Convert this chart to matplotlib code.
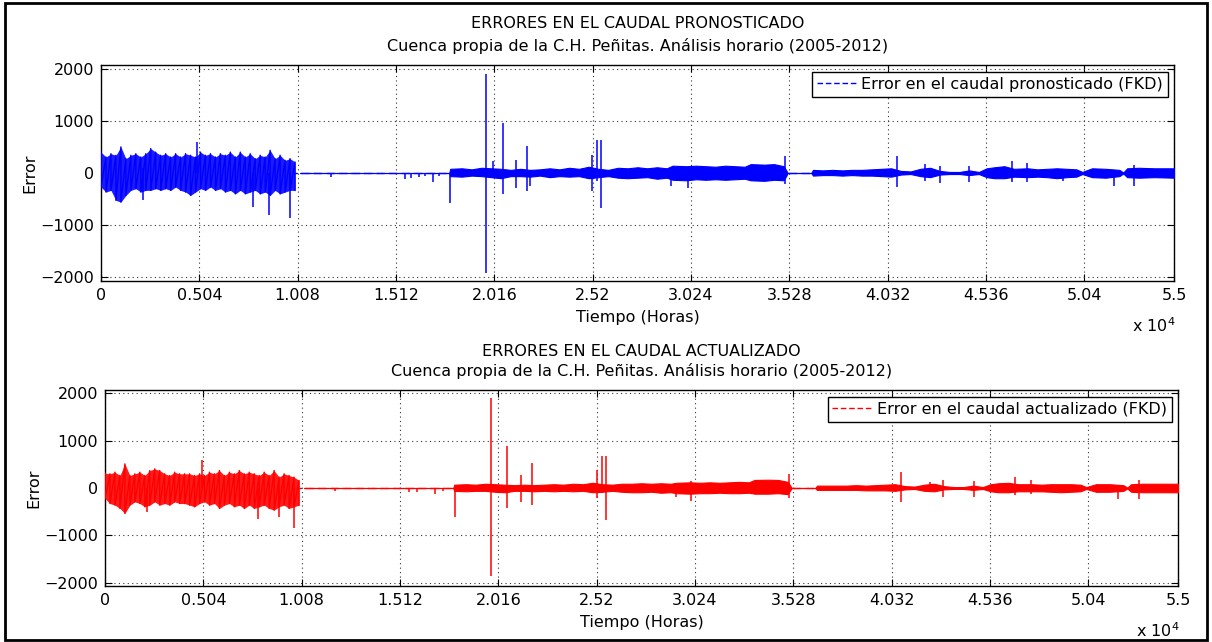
import numpy as np
import matplotlib.pyplot as plt
from matplotlib.lines import Line2D
from matplotlib.patches import Rectangle

# ejes
x_ticks = [0, 5040, 10080, 15120, 20160, 25200, 30240, 35280, 40320, 45360, 50400, 55000]
x_tick_labels = ['0', '0.504', '1.008', '1.512', '2.016', '2.52', '3.024', '3.528',
                 '4.032', '4.536', '5.04', '5.5']
y_ticks = [-2000, -1000, 0, 1000, 2000]

# zona densa (0 - 10200 h), envolvente leida cada 255 h
t_densa = np.arange(0, 10200, 255)

pron_densa_sup = [400, 307, 370, 340, 500, 275, 340, 370, 307, 370,
                  467, 400, 340, 370, 307, 370, 307, 370, 340, 307,
                  400, 340, 370, 307, 370, 340, 400, 307, 400, 307,
                  370, 275, 340, 307, 435, 275, 340, 243, 275, 211]
pron_densa_inf = [-270, -365, -333, -525, -557, -430, -333, -300, -365, -333,
                  -333, -300, -333, -300, -333, -270, -333, -365, -430, -365,
                  -300, -333, -270, -333, -300, -365, -333, -400, -333, -400,
                  -365, -333, -400, -365, -430, -333, -400, -365, -333, -333]

act_densa_sup = [313, 300, 334, 265, 509, 265, 300, 334, 265, 369,
                 404, 369, 300, 265, 334, 300, 300, 300, 265, 300,
                 265, 334, 300, 369, 265, 334, 300, 369, 300, 334,
                 300, 265, 334, 265, 369, 230, 300, 265, 230, 160]
act_densa_inf = [-223, -328, -362, -432, -537, -362, -293, -328, -397, -362,
                 -293, -362, -328, -362, -293, -328, -328, -362, -397, -328,
                 -293, -362, -328, -432, -362, -328, -397, -362, -432, -362,
                 -432, -397, -362, -432, -467, -397, -362, -432, -397, -362]

# resto de la serie (10200 - 55000 h)
t_resto = [10200, 17850, 17900, 18500, 19000, 19500, 20000, 20500, 21000, 21500,
           22000, 22500, 23000, 23500, 24000, 24500, 25000, 25500, 26000, 26500,
           27000, 27500, 28000, 28500, 29000, 29300, 30000, 30500, 31000, 31500,
           32000, 32500, 33000, 33300, 34000, 34500, 35000, 35200, 36400, 36500,
           37000, 37500, 38000, 38500, 39000, 39500, 40000, 40500, 41000, 41500,
           42000, 42500, 43000, 43500, 44000, 44500, 45000, 45400, 45800, 46300,
           46800, 47500, 48000, 48500, 49000, 49500, 50000, 50300, 50800, 51500,
           52200, 52400, 52600, 53200, 54000, 55000]

pron_resto_sup = [0, 0, 80, 90, 70, 100, 90, 80, 60, 80,
                  60, 70, 90, 70, 100, 80, 120, 80, 60, 100,
                  90, 110, 90, 110, 90, 140, 130, 140, 130, 120,
                  140, 130, 120, 170, 160, 170, 130, 0, 0, 60,
                  50, 60, 50, 60, 60, 70, 80, 90, 40, 30,
                  80, 100, 40, 20, 20, 50, 20, 90, 110, 130,
                  80, 90, 70, 80, 90, 80, 70, 20, 90, 80,
                  60, 10, 90, 100, 90, 90]
pron_resto_inf = [0, 0, -60, -70, -50, -60, -80, -100, -60, -60,
                  -70, -50, -80, -60, -70, -60, -100, -80, -60, -90,
                  -100, -90, -80, -110, -90, -130, -140, -120, -130, -120,
                  -130, -120, -110, -140, -150, -130, -140, 0, 0, -50,
                  -40, -40, -50, -40, -50, -50, -60, -70, -30, -20,
                  -60, -80, -30, -20, -20, -40, -20, -80, -100, -100,
                  -70, -80, -70, -80, -100, -80, -70, -20, -80, -90,
                  -60, -10, -80, -90, -80, -90]

act_resto_sup = [0, 0, 70, 80, 70, 90, 80, 70, 60, 70,
                 60, 70, 80, 70, 90, 80, 110, 80, 70, 90,
                 90, 100, 90, 100, 90, 110, 120, 110, 120, 110,
                 120, 130, 120, 170, 175, 170, 130, 0, 0, 50,
                 50, 50, 50, 60, 50, 60, 70, 80, 40, 30,
                 70, 90, 40, 20, 20, 50, 20, 80, 100, 110,
                 80, 80, 70, 80, 80, 80, 70, 20, 80, 80,
                 60, 10, 80, 90, 90, 90]
act_resto_inf = [0, 0, -60, -70, -60, -60, -80, -90, -60, -60,
                 -70, -60, -70, -60, -70, -60, -90, -80, -60, -80,
                 -90, -90, -80, -100, -90, -110, -120, -110, -110, -100,
                 -110, -110, -100, -120, -120, -110, -130, 0, 0, -40,
                 -40, -40, -40, -40, -50, -50, -50, -60, -30, -20,
                 -60, -70, -30, -20, -20, -40, -20, -70, -90, -90,
                 -70, -70, -70, -80, -90, -80, -70, -20, -80, -80,
                 -60, -10, -80, -90, -90, -90]

# picos aislados: hora, maximo, minimo
pron_pico_t = [2160, 4900, 7800, 8610, 9690, 11800, 15600, 15900, 16300, 16600,
               17000, 17300, 17900, 19730, 20100, 20620, 21250, 21820, 22000, 25150,
               25440, 25610, 29200, 30070, 35060, 40780, 42240, 43010, 44500, 46680,
               47450, 49300, 51900, 52950]
pron_pico_max = [100, 595, 0, 0, 0, 0, 0, 0, 0, 0,
                 0, 0, 0, 1900, 225, 950, 255, 515, 50, 350,
                 625, 625, 50, 80, 320, 330, 170, 140, 140, 235,
                 185, 60, 60, 160]
pron_pico_min = [-525, 0, -650, -810, -870, -70, -110, -90, -80, -60,
                 -170, -60, -580, -1910, -100, -410, -285, -350, -240, -350,
                 -150, -670, -250, -290, -220, -275, -150, -200, -170, -165,
                 -170, -150, -240, -240]

act_pico_t = [2160, 4970, 7840, 8930, 9670, 11800, 15600, 16000, 16900, 17300,
              17950, 19780, 20630, 21310, 21870, 25230, 25490, 25660, 29270, 30040,
              35060, 40800, 42270, 42970, 44530, 46650, 47460, 51950, 53000]
act_pico_max = [0, 593, 0, 0, 0, 0, 0, 0, 0, 0,
                0, 1900, 890, 265, 525, 370, 680, 680, 40, 140,
                290, 335, 125, 160, 150, 230, 160, 60, 160]
act_pico_min = [-500, 0, -655, -620, -850, -60, -90, -80, -130, -70,
                -605, -1860, -430, -290, -360, -220, -100, -675, -190, -280,
                -220, -300, -60, -190, -190, -140, -130, -235, -240]

titulos = ['ERRORES EN EL CAUDAL PRONOSTICADO', 'ERRORES EN EL CAUDAL ACTUALIZADO']
subtitulo = 'Cuenca propia de la C.H. Peñitas. Análisis horario (2005-2012)'
leyendas = ['Error en el caudal pronosticado (FKD)', 'Error en el caudal actualizado (FKD)']

plt.rcParams['font.family'] = ['DejaVu Sans']
FS = 11.5
W, H = 1212, 642
fig = plt.figure(figsize=(W / 100, H / 100), dpi=100)


def px(x0, y0, x1, y1):
    return [x0 / W, 1 - y1 / H, (x1 - x0) / W, (y1 - y0) / H]


def panel(rect, densa, resto, picos, color, claro, titulo, leyenda, ytit, ylab):
    ax = fig.add_axes(rect)
    ax.plot([0, 55000], [0, 0], color=color, lw=1.0, dashes=(6, 3), zorder=2)
    # zona densa: relleno + trazos entre maximo y minimo
    t, sup, inf = densa
    ax.fill_between(t, inf, sup, color=claro, lw=0, zorder=3)
    ax.plot(np.repeat(t, 2), np.column_stack([sup, inf]).ravel(),
            color=color, lw=1.0, zorder=3)
    # resto: banda estrecha
    t, sup, inf = resto
    ax.fill_between(t, inf, sup, color=color, lw=0.8, edgecolor=color, zorder=3)
    pt, pmax, pmin = picos
    ax.vlines(pt, pmin, pmax, color=color, lw=1.1, zorder=3)
    ax.set_xlim(0, 55000)
    ax.set_ylim(-2070, 2070)
    ax.set_xticks(x_ticks)
    ax.set_xticklabels(x_tick_labels)
    ax.set_yticks(y_ticks)
    ax.grid(True, color='0.2', linestyle=(0, (1, 3)), linewidth=0.8)
    ax.tick_params(direction='in', top=True, right=True, length=5, width=0.8,
                   labelsize=FS, pad=5)
    for s in ax.spines.values():
        s.set_linewidth(1.0)
    ax.set_ylabel('Error', fontsize=FS, labelpad=2)
    ax.set_xlabel('Tiempo (Horas)', fontsize=FS, labelpad=5)
    proxy = Line2D([], [], color=color, lw=1.0, dashes=(4, 2))
    leg = ax.legend([proxy], [leyenda], loc='upper right', fontsize=FS,
                    bbox_to_anchor=(1 - 6 / (rect[2] * W), 1 - 7 / (rect[3] * H)),
                    borderaxespad=0, fancybox=False, framealpha=1, edgecolor='k',
                    handlelength=2.5, handletextpad=0.3, borderpad=0.3)
    leg.get_frame().set_linewidth(1.0)
    cx = rect[0] + rect[2] / 2
    fig.text(cx, 1 - ytit[0] / H, titulo, ha='center', va='center', fontsize=FS)
    fig.text(cx, 1 - ytit[1] / H, subtitulo, ha='center', va='center', fontsize=FS)
    fig.text((rect[0] + rect[2]) - 42 / W, 1 - ylab / H, r'x 10$^{4}$',
             ha='left', va='center', fontsize=FS)
    return ax


panel(px(101, 65, 1174, 281),
      (t_densa, pron_densa_sup, pron_densa_inf),
      (t_resto, pron_resto_sup, pron_resto_inf),
      (pron_pico_t, pron_pico_max, pron_pico_min), '#0000ff', '#1c1cff',
      titulos[0], leyendas[0], (24, 46), 326)
panel(px(105, 390, 1178, 586),
      (t_densa, act_densa_sup, act_densa_inf),
      (t_resto, act_resto_sup, act_resto_inf),
      (act_pico_t, act_pico_max, act_pico_min), '#ff0000', '#ff1c1c',
      titulos[1], leyendas[1], (351, 371), 631)

# marco exterior
fig.patches.append(Rectangle((5 / W, 2 / H), 1202 / W, 637 / H, transform=fig.transFigure,
                             fill=False, edgecolor='k', lw=2.0))

fig.savefig('out.png', dpi=100)
